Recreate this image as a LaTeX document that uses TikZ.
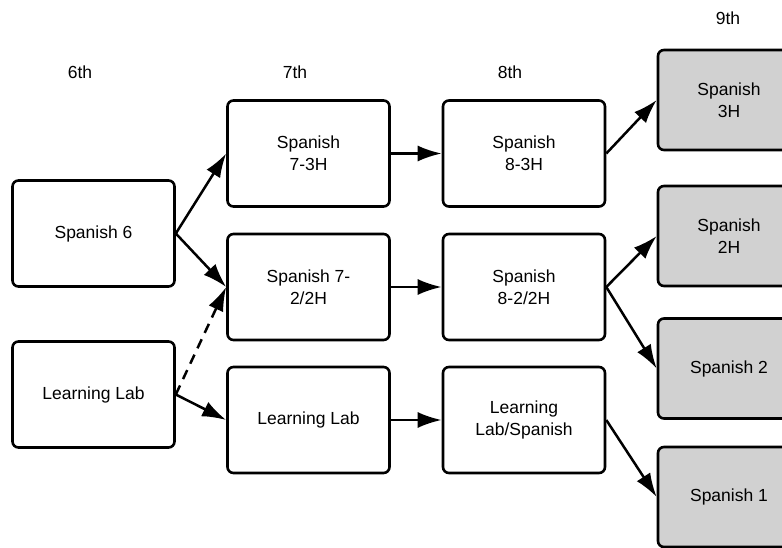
\documentclass[tikz,border=0pt]{standalone}
\usepackage{fontspec}
\setmainfont{Liberation Sans}
\usetikzlibrary{arrows.meta}
\definecolor{boxgray}{RGB}{209,209,209}

\begin{document}
\begin{tikzpicture}[x=1pt,y=-1pt]
			\tikzset{font=\fontsize{17.5}{22}\selectfont,
					align=center}
			\tikzset{course/.style = {shape=rectangle,draw,line width=2.6pt,rounded corners=6pt,
					minimum width=162pt,minimum height=106pt,inner sep=0pt}}
			\tikzset{hcourse/.style = {course,fill=boxgray,minimum width=142pt,minimum height=100pt}}
			\tikzset{edge/.style = {-{Latex[length=24pt,width=16pt]},line width=2.5pt}}
			\useasboundingbox (0,0) rectangle (782,548);
			\clip (0,0) rectangle (782,548);
			% grades
			\node (g6) at (80,72) {6th};
			\node (g7) at (295,72) {7th};
			\node (g8) at (510,72) {8th};
			\node (g9) at (728,18) {9th};
			% courses
			\node[course] (s6) at (93.5,233.5) {Spanish 6};
			\node[course] (ll6) at (93.5,394.5) {Learning Lab};
			\node[course] (s73) at (308.5,153.5) {Spanish\\7-3H};
			\node[course] (s722) at (308.5,287) {Spanish 7-\\2/2H};
			\node[course] (ll7) at (308.5,420) {Learning Lab};
			\node[course] (s83) at (524,153.5) {Spanish\\8-3H};
			\node[course] (s822) at (524,287) {Spanish\\8-2/2H};
			\node[course] (lls8) at (524,420) {Learning\\Lab/Spanish};
			\node[hcourse] (s3h) at (729,100) {Spanish\\3H};
			\node[hcourse] (s2h) at (729,236) {Spanish\\2H};
			\node[hcourse] (s2) at (729,368.5) {Spanish 2};
			\node[hcourse] (s1) at (729,497) {Spanish 1};
			
			%edges
			\draw[edge] (s6.east) to (s73.west);
			\draw[edge] (s6.east) to (s722.west);
			\draw[edge,dash pattern=on 10pt off 7pt] (ll6.east) to (s722.west);
			\draw[edge] (ll6.east) to (ll7.west);
			
			\draw[edge] (s73) to (s83);
			\draw[edge] (s722) to (s822);
			\draw[edge] (ll7) to (lls8);
			
			\draw[edge] (s83.east) to (s3h.west);
			\draw[edge] (s822.east) to (s2h.west);
			\draw[edge] (s822.east) to (s2.west);
			\draw[edge] (lls8.east) to (s1.west);
			\end{tikzpicture}
\end{document}
